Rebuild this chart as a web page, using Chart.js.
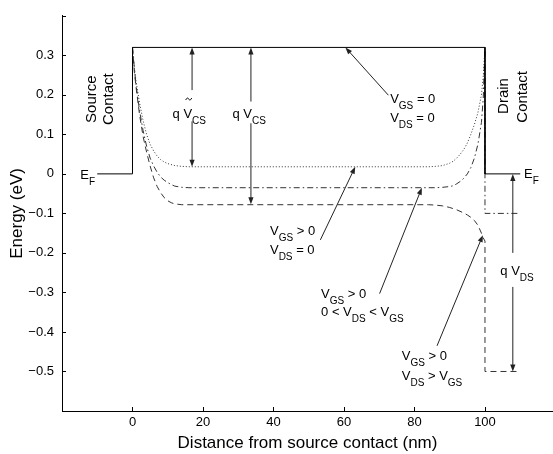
<!DOCTYPE html>
<html><head><meta charset="utf-8">
<script src="https://cdn.jsdelivr.net/npm/chart.js@4.4.0/dist/chart.umd.min.js"></script>
<style>html,body{margin:0;padding:0;background:#fff;}#c{display:block;}</style>
</head><body>
<canvas id="c" width="553" height="454"></canvas>
<script>
// ---- data ----
const xTickValues = [0, 20, 40, 60, 80, 100];
const yTickValues = [-0.5, -0.4, -0.3, -0.2, -0.1, 0, 0.1, 0.2, 0.3];
const yTickLabels = ['\u22120.5', '\u22120.4', '\u22120.3', '\u22120.2', '\u22120.1', '0', '0.1', '0.2', '0.3'];

// V_GS = 0, V_DS = 0 (solid)
const solidX = [-10, 0, 0, 100, 100, 110];
const solidY = [0, 0, 0.32, 0.32, 0, 0];

// V_GS > 0, V_DS = 0 (dotted)
const dottedX = [0, 0.5, 1, 2, 3, 4, 5, 6, 7, 8, 9, 10, 12, 14, 16, 84, 86, 88, 90, 91, 92, 93, 94, 95, 96, 97, 98, 99, 99.5, 100];
const dottedY = [0.32, 0.27, 0.235, 0.18, 0.135, 0.1, 0.075, 0.058, 0.045, 0.036, 0.03, 0.026, 0.021, 0.019, 0.018, 0.018, 0.019, 0.021, 0.027, 0.032, 0.04, 0.05, 0.062, 0.078, 0.1, 0.125, 0.155, 0.2, 0.245, 0.32];

// V_GS > 0, 0 < V_DS < V_GS (dash-dot)
const dashDotX = [0, 0.5, 1, 2, 3, 4, 5, 6, 7, 8, 9, 10, 11, 12, 14, 16, 86, 88, 90, 91, 92, 93, 94, 95, 96, 97, 98, 99, 99.5, 100, 100, 110];
const dashDotY = [0.32, 0.27, 0.225, 0.16, 0.11, 0.07, 0.04, 0.02, 0.004, -0.008, -0.016, -0.022, -0.027, -0.031, -0.034, -0.035, -0.035, -0.034, -0.032, -0.03, -0.025, -0.019, -0.011, 0.0, 0.016, 0.04, 0.075, 0.13, 0.19, 0.32, -0.1, -0.1];

// V_GS > 0, V_DS > V_GS (dashed)
const dashedX = [0, 0.5, 1, 2, 3, 4, 5, 6, 7, 8, 9, 10, 11, 12, 14, 84, 86, 88, 90, 92, 94, 95, 96, 97, 98, 99, 99.5, 100, 100, 110];
const dashedY = [0.32, 0.26, 0.22, 0.15, 0.095, 0.055, 0.02, -0.01, -0.032, -0.048, -0.06, -0.068, -0.073, -0.076, -0.078, -0.078, -0.079, -0.081, -0.085, -0.091, -0.099, -0.104, -0.11, -0.118, -0.13, -0.15, -0.162, -0.17, -0.5, -0.5];

const zip = (xs, ys) => xs.map((x, i) => ({x: x, y: ys[i]}));

const FAM = '"Liberation Sans", Arial, Helvetica, sans-serif';
Chart.defaults.font.family = FAM;
Chart.defaults.color = '#000';

const MAIN = 13, SUB = 10, SUBDY = 6;
const fnt = s => s + 'px ' + FAM;
function richW(ctx, parts) {
  let w = 0;
  for (const p of parts) { ctx.font = fnt(p[1] ? SUB : MAIN); w += ctx.measureText(p[0]).width; }
  return w;
}
function rich(ctx, parts, x, yc, align) {
  const w = richW(ctx, parts);
  let cx = align === 'center' ? x - w / 2 : (align === 'right' ? x - w : x);
  const start = cx;
  const base = yc + MAIN * 0.716 / 2;
  ctx.textAlign = 'left'; ctx.textBaseline = 'alphabetic';
  const pos = [];
  for (const p of parts) {
    ctx.font = fnt(p[1] ? SUB : MAIN);
    ctx.fillText(p[0], cx, p[1] ? base + SUBDY : base);
    const pw = ctx.measureText(p[0]).width;
    pos.push([cx, pw]);
    cx += pw;
  }
  return {start: start, pos: pos};
}
function arrow(ctx, x1, y1, x2, y2) {
  const dx = x2 - x1, dy = y2 - y1, len = Math.hypot(dx, dy);
  const ux = dx / len, uy = dy / len, nx = -uy, ny = ux;
  const L = 7, W = 2.6;
  ctx.beginPath(); ctx.moveTo(x1, y1); ctx.lineTo(x2 - ux * L * 0.7, y2 - uy * L * 0.7); ctx.stroke();
  ctx.beginPath(); ctx.moveTo(x2, y2);
  ctx.lineTo(x2 - ux * L + nx * W, y2 - uy * L + ny * W);
  ctx.lineTo(x2 - ux * L - nx * W, y2 - uy * L - ny * W);
  ctx.closePath(); ctx.fill();
}
function vtext(ctx, txt, x, y, size) {
  ctx.save(); ctx.translate(x, y); ctx.rotate(-Math.PI / 2);
  ctx.font = fnt(size); ctx.textAlign = 'center'; ctx.textBaseline = 'middle';
  ctx.fillText(txt, 0, 0); ctx.restore();
}

const annot = {
  id: 'annot',
  afterDraw(chart) {
    const ctx = chart.ctx, xs = chart.scales.x, ys = chart.scales.y;
    const X = v => xs.getPixelForValue(v), Y = v => ys.getPixelForValue(v);
    ctx.save();
    // inward tick marks
    ctx.strokeStyle = '#000'; ctx.lineWidth = 1;
    ctx.beginPath();
    for (const v of xTickValues) { const px = Math.round(X(v)) + 0.5; ctx.moveTo(px, ys.bottom); ctx.lineTo(px, ys.bottom - 4); }
    for (const v of yTickValues.concat([0.4])) { const py = Math.round(Y(v)) + 0.5; ctx.moveTo(xs.left, py); ctx.lineTo(xs.left + 4, py); }
    ctx.stroke();

    ctx.fillStyle = '#000';
    // Fermi level labels
    rich(ctx, [['E'], ['F', 1]], X(-14.8), Y(0), 'left');
    rich(ctx, [['E'], ['F', 1]], X(111.1), Y(0.002), 'left');
    // contact labels
    vtext(ctx, 'Source', X(-11.5), Y(0.189), 15);
    vtext(ctx, 'Contact', X(-6.6), Y(0.189), 15);
    vtext(ctx, 'Drain', X(105.5), Y(0.197), 15);
    vtext(ctx, 'Contact', X(110.8), Y(0.195), 15);
    // condition labels
    rich(ctx, [['V'], ['GS', 1], [' = 0']], X(73.1), Y(0.191), 'left');
    rich(ctx, [['V'], ['DS', 1], [' = 0']], X(73.1), Y(0.144), 'left');
    rich(ctx, [['V'], ['GS', 1], [' > 0']], X(39.0), Y(-0.144), 'left');
    rich(ctx, [['V'], ['DS', 1], [' = 0']], X(39.0), Y(-0.192), 'left');
    rich(ctx, [['V'], ['GS', 1], [' > 0']], X(53.5), Y(-0.303), 'left');
    rich(ctx, [['0 < V'], ['DS', 1], [' < V'], ['GS', 1]], X(53.5), Y(-0.348), 'left');
    rich(ctx, [['V'], ['GS', 1], [' > 0']], X(76.4), Y(-0.459), 'left');
    rich(ctx, [['V'], ['DS', 1], [' > V'], ['GS', 1]], X(76.4), Y(-0.509), 'left');
    // q V labels
    const r = rich(ctx, [['q '], ['V'], ['CS', 1]], X(16.1), Y(0.154), 'center');
    const vx = r.pos[1][0] + r.pos[1][1] / 2 + 1, ty = Y(0.154) - 14;
    ctx.strokeStyle = '#000'; ctx.lineWidth = 1;
    ctx.beginPath(); ctx.moveTo(vx - 3, ty + 1);
    ctx.bezierCurveTo(vx - 1.5, ty - 2, vx - 0.5, ty - 1, vx, ty);
    ctx.bezierCurveTo(vx + 0.5, ty + 1, vx + 1.5, ty + 2, vx + 3, ty - 1);
    ctx.stroke();
    rich(ctx, [['q V'], ['CS', 1]], X(33.1), Y(0.152), 'center');
    rich(ctx, [['q V'], ['DS', 1]], X(109.1), Y(-0.245), 'center');

    // arrows
    ctx.strokeStyle = '#222'; ctx.fillStyle = '#222'; ctx.lineWidth = 1;
    arrow(ctx, X(72.6), Y(0.199), X(60.4), Y(0.32));
    arrow(ctx, X(53.3), Y(-0.167), X(63.2), Y(0.018));
    arrow(ctx, X(70.1), Y(-0.303), X(82.1), Y(-0.035));
    arrow(ctx, X(86.4), Y(-0.435), X(99.4), Y(-0.155));
    arrow(ctx, X(16.9), Y(0.212), X(16.9), Y(0.32));
    arrow(ctx, X(16.9), Y(0.133), X(16.9), Y(0.018));
    arrow(ctx, X(33.6), Y(0.183), X(33.6), Y(0.32));
    arrow(ctx, X(33.6), Y(0.128), X(33.6), Y(-0.077));
    arrow(ctx, X(107.9), Y(-0.2), X(107.9), Y(0));
    arrow(ctx, X(107.9), Y(-0.286), X(107.9), Y(-0.5));
    ctx.restore();
  }
};

const lineDs = (label, xs, ys, dash, color) => ({
  label: label, data: zip(xs, ys), showLine: true, borderColor: color, borderWidth: 1,
  borderDash: dash, pointRadius: 0, tension: 0, fill: false
});

new Chart(document.getElementById('c'), {
  type: 'scatter',
  data: {
    datasets: [
      lineDs('V_GS = 0, V_DS = 0', solidX, solidY, [], '#000'),
      lineDs('V_GS > 0, V_DS = 0', dottedX, dottedY, [1, 2], '#333'),
      lineDs('V_GS > 0, 0 < V_DS < V_GS', dashDotX, dashDotY, [6, 3, 1.5, 3], '#333'),
      lineDs('V_GS > 0, V_DS > V_GS', dashedX, dashedY, [6, 4], '#333')
    ]
  },
  options: {
    responsive: false, animation: false, devicePixelRatio: 1,
    layout: {padding: {top: 7, right: 0, bottom: 0, left: 0}},
    plugins: {legend: {display: false}, tooltip: {enabled: false}},
    scales: {
      x: {
        type: 'linear', min: -20, max: 119.3,
        afterBuildTicks: s => { s.ticks = xTickValues.map(v => ({value: v})); },
        afterFit: s => { s.height = 43; },
        ticks: {callback: v => String(v), font: {size: 13}, color: '#000', padding: 4, maxRotation: 0, autoSkip: false},
        grid: {display: false, drawTicks: false},
        border: {display: true, color: '#000', width: 1},
        title: {display: true, text: 'Distance from source contact (nm)', font: {size: 17}, color: '#000', padding: {top: 0, bottom: 0}}
      },
      y: {
        type: 'linear', min: -0.6, max: 0.4,
        afterBuildTicks: s => { s.ticks = yTickValues.map(v => ({value: v})); },
        afterFit: s => { s.width = 62; },
        ticks: {callback: (v, i) => yTickLabels[i], font: {size: 13}, color: '#000', padding: 8, autoSkip: false},
        grid: {display: false, drawTicks: false},
        border: {display: true, color: '#000', width: 1},
        title: {display: true, text: 'Energy (eV)', font: {size: 17}, color: '#000', padding: {top: 7, bottom: 0}}
      }
    }
  },
  plugins: [annot]
});
</script>
</body></html>
